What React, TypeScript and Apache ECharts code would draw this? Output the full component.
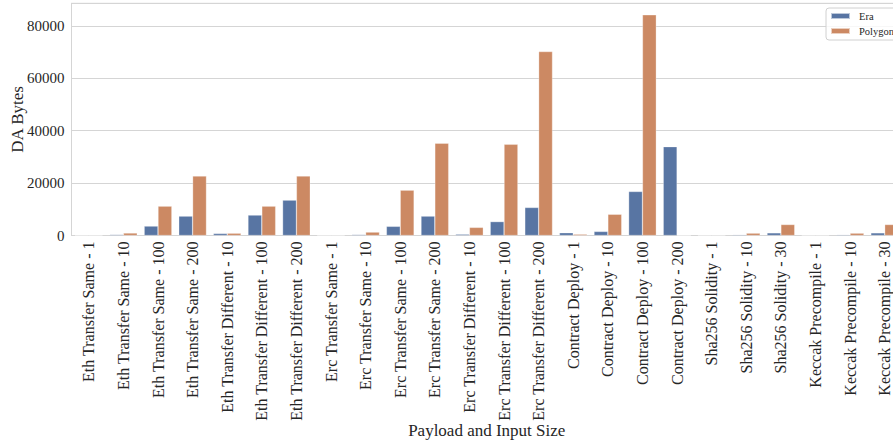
import React, { useEffect, useRef } from "react";
import * as echarts from "echarts";

const categories = [
  "Eth Transfer Same - 1", "Eth Transfer Same - 10", "Eth Transfer Same - 100", "Eth Transfer Same - 200",
  "Eth Transfer Different - 10", "Eth Transfer Different - 100", "Eth Transfer Different - 200",
  "Erc Transfer Same - 1", "Erc Transfer Same - 10", "Erc Transfer Same - 100", "Erc Transfer Same - 200",
  "Erc Transfer Different - 10", "Erc Transfer Different - 100", "Erc Transfer Different - 200",
  "Contract Deploy - 1", "Contract Deploy - 10", "Contract Deploy - 100", "Contract Deploy - 200",
  "Sha256 Solidity - 1", "Sha256 Solidity - 10", "Sha256 Solidity - 30",
  "Keccak Precompile - 1", "Keccak Precompile - 10", "Keccak Precompile - 30",
];

const eraValues = [40, 350, 3600, 7400, 780, 7800, 13500, 40, 350, 3500, 7400, 500, 5300, 10700, 1050, 1550, 16800, 33900, 60, 300, 1000, 60, 300, 1000];
const polygonValues = [90, 950, 11200, 22700, 880, 11200, 22700, 90, 1300, 17300, 35200, 3100, 34800, 70200, 500, 8100, 84200, 0, 100, 900, 4200, 100, 900, 4200];

const yTicks = [0, 20000, 40000, 60000, 80000];

const FONT = "'Liberation Serif', 'DejaVu Serif', serif";
const TEXT = "#262626";
const GRID = "#d5d5d5";

export default function App() {
  const ref = useRef<HTMLDivElement>(null);
  useEffect(() => {
    if (!ref.current) return;
    const chart = echarts.init(ref.current, undefined, { renderer: "svg" });
    chart.setOption({
      animation: false,
      textStyle: { fontFamily: FONT, color: TEXT },
      grid: {
        left: 71.5,
        right: 0,
        top: 3.3,
        bottom: 445 - 235.5,
        outerBoundsMode: "none",
        containLabel: false,
        show: true,
        borderColor: GRID,
        borderWidth: 1,
        backgroundColor: "#fff",
      },
      legend: {
        orient: "vertical",
        left: 826,
        top: 8,
        padding: [2, 8, 3, 4],
        itemGap: 3,
        itemWidth: 19,
        itemHeight: 6,
        icon: "rect",
        backgroundColor: "rgba(255,255,255,0.8)",
        borderColor: "#d0d0d0",
        borderWidth: 1,
        borderRadius: 3,
        textStyle: { fontFamily: FONT, fontSize: 10.5, color: TEXT, lineHeight: 12, padding: [0, 0, 0, 4] },
        data: ["Era", "Polygon"],
      },
      xAxis: {
        type: "category",
        data: categories,
        name: "Payload and Input Size",
        nameLocation: "middle",
        nameGap: 186,
        nameMoveOverlap: false,
        nameTextStyle: { fontFamily: FONT, fontSize: 17, color: TEXT },
        axisLine: { show: true, lineStyle: { color: GRID, width: 1 } },
        axisTick: { show: false },
        axisLabel: {
          interval: 0,
          rotate: 90,
          margin: 6,
          fontFamily: FONT,
          fontSize: 16,
          color: TEXT,
        },
        splitLine: { show: false },
      },
      yAxis: {
        type: "value",
        min: 0,
        max: 88600,
        interval: 20000,
        name: "DA Bytes",
        nameLocation: "middle",
        nameGap: 46,
        nameMoveOverlap: false,
        nameTextStyle: { fontFamily: FONT, fontSize: 17, color: TEXT },
        axisLine: { show: true, lineStyle: { color: GRID, width: 1 } },
        axisTick: { show: false },
        axisLabel: {
          showMaxLabel: false,
          margin: 7,
          fontFamily: FONT,
          fontSize: 15,
          color: TEXT,
          formatter: (v: number) => (yTicks.includes(v) ? String(v) : ""),
        },
        splitLine: { show: true, lineStyle: { color: GRID, width: 1 } },
      },
      series: [
        {
          name: "Era",
          type: "bar",
          data: eraValues,
          barGap: "0%",
          barCategoryGap: "20%",
          itemStyle: { color: "#5875a3", borderColor: "rgba(255,255,255,0.6)", borderWidth: 0.5 },
        },
        {
          name: "Polygon",
          type: "bar",
          data: polygonValues,
          barGap: "0%",
          barCategoryGap: "20%",
          itemStyle: { color: "#cc8963", borderColor: "rgba(255,255,255,0.6)", borderWidth: 0.5 },
        },
      ],
    });
    return () => chart.dispose();
  }, []);
  return (
    <div style={{ position: "fixed", left: 0, top: 0, width: 893, height: 445, overflow: "hidden", background: "#fff" }}>
      <div ref={ref} style={{ width: 902, height: 445 }} />
    </div>
  );
}
